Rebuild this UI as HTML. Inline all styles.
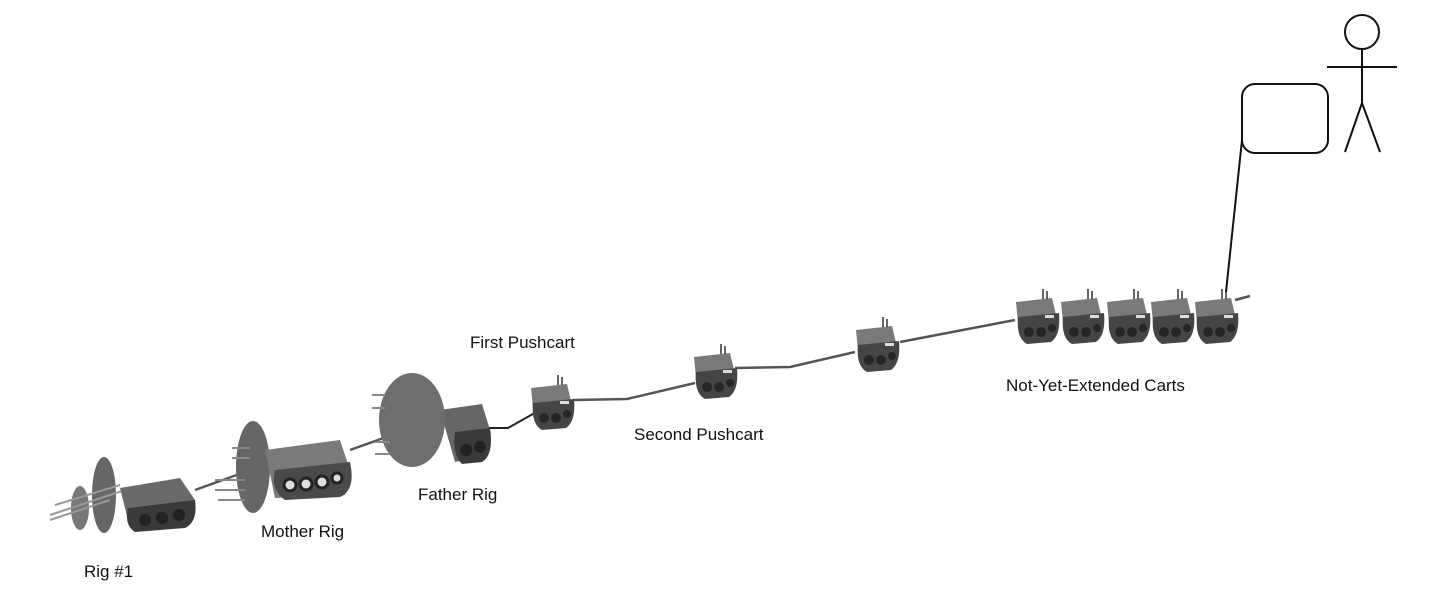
<!DOCTYPE html>
<html><head><style>
html,body{margin:0;padding:0;background:#fff;}
svg{display:block;}
text{font-family:"Liberation Sans",sans-serif;font-size:17px;fill:#111;}
</style></head><body>
<svg width="1440" height="604" viewBox="0 0 1440 604" xmlns="http://www.w3.org/2000/svg">
<defs>
<g id="cart">
  <path d="M1,5 L37,1 L42,22 L3,26 Z" fill="#7a7a7a"/>
  <path d="M3,20 L44,16 Q46,38 36,45 L12,47 Q1,41 3,20 Z" fill="#454545"/>
  <circle cx="14" cy="35" r="5" fill="#262626"/><circle cx="26" cy="35" r="5" fill="#262626"/><circle cx="37" cy="31" r="4" fill="#262626"/>
  <rect x="30" y="18" width="9" height="3" fill="#ddd"/>
  <path d="M28,2 L28,-8 M32,2 L32,-6" stroke="#333" stroke-width="1.5"/>
</g>
</defs>
<g stroke="#555" stroke-width="2.5" fill="none">
  <path d="M195,490 L245,472"/>
  <path d="M350,450 L420,425"/>
  <path d="M573,400 L627,399 L695,383"/>
  <path d="M735,368 L790,367 L855,352"/>
  <path d="M900,342 L1015,320"/>
  <path d="M1235,300 L1250,296"/>
</g>
<path d="M488,428 L508,428 L540,410" stroke="#222" stroke-width="2" fill="none"/>
<!-- Rig #1 -->
<ellipse cx="104" cy="495" rx="12" ry="38" fill="#666"/>
<ellipse cx="80" cy="508" rx="9" ry="22" fill="#777"/>
<path d="M50,515 L125,490 M55,505 L120,485 M50,520 L110,500" stroke="#999" stroke-width="2"/>
<path d="M120,488 L180,478 L195,500 L192,520 L130,528 Z" fill="#6a6a6a"/>
<path d="M128,508 L195,500 Q198,522 185,528 L135,532 Q124,525 128,508 Z" fill="#3a3a3a"/>
<circle cx="145" cy="520" r="6" fill="#222"/><circle cx="162" cy="518" r="6" fill="#222"/><circle cx="179" cy="515" r="6" fill="#222"/>
<!-- Mother Rig -->
<ellipse cx="253" cy="467" rx="17" ry="46" fill="#666"/>
<path d="M232,448 L250,448 M232,458 L250,458 M215,480 L245,480 M215,490 L245,490 M218,500 L245,500" stroke="#888" stroke-width="2"/>
<path d="M265,450 L340,440 L350,470 L345,495 L275,498 Z" fill="#7a7a7a"/>
<path d="M275,470 L350,462 Q356,490 340,497 L285,500 Q270,490 275,470 Z" fill="#4a4a4a"/>
<circle cx="290" cy="485" r="6" fill="#ddd" stroke="#222" stroke-width="3"/><circle cx="306" cy="484" r="6" fill="#ddd" stroke="#222" stroke-width="3"/><circle cx="322" cy="482" r="6" fill="#ddd" stroke="#222" stroke-width="3"/><circle cx="337" cy="478" r="5" fill="#ddd" stroke="#222" stroke-width="3"/>
<!-- Father Rig -->
<path d="M440,410 L482,404 L490,430 L488,455 L455,462 Z" fill="#666"/>
<path d="M455,432 L490,428 Q494,455 482,462 L462,464 Q452,455 455,432 Z" fill="#3a3a3a"/>
<circle cx="466" cy="450" r="6" fill="#222"/><circle cx="480" cy="447" r="6" fill="#222"/>
<ellipse cx="412" cy="420" rx="33" ry="47" fill="#6e6e6e"/>
<path d="M385,395 L372,395 M385,408 L372,408 M390,442 L375,442 M390,454 L375,454" stroke="#888" stroke-width="2"/>
<use href="#cart" x="530" y="383"/>
<use href="#cart" x="693" y="352"/>
<use href="#cart" x="855" y="325"/>
<use href="#cart" x="1015" y="297"/>
<use href="#cart" x="1060" y="297"/>
<use href="#cart" x="1106" y="297"/>
<use href="#cart" x="1150" y="297"/>
<use href="#cart" x="1194" y="297"/>
<!-- user -->
<g stroke="#111" stroke-width="2" fill="none">
  <rect x="1242" y="84" width="86" height="69" rx="13"/>
  <path d="M1242,140 L1226,292"/>
  <circle cx="1362" cy="32" r="17"/>
  <path d="M1362,49 L1362,103 M1327,67 L1397,67 M1362,103 L1345,152 M1362,103 L1380,152"/>
</g>
<text x="470" y="348">First Pushcart</text>
<text x="634" y="440">Second Pushcart</text>
<text x="418" y="500">Father Rig</text>
<text x="261" y="537">Mother Rig</text>
<text x="84" y="577">Rig #1</text>
<text x="1006" y="391">Not-Yet-Extended Carts</text>
</svg>
</body></html>
